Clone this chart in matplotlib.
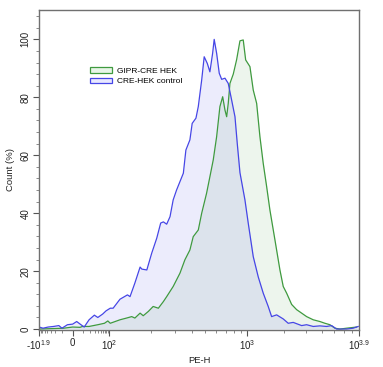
import numpy as np
import matplotlib
matplotlib.use("Agg")
import matplotlib.pyplot as plt
import matplotlib.patches as mpatches
from matplotlib.ticker import FixedLocator

plt.rcParams['font.family'] = ['Liberation Sans', 'DejaVu Sans']
plt.rcParams['mathtext.fontset'] = 'custom'
plt.rcParams['mathtext.rm'] = 'Liberation Sans'
plt.rcParams['mathtext.it'] = 'Liberation Sans'
plt.rcParams['mathtext.default'] = 'regular'

# histogram traces, PE-H value vs Count (%)
blue_x = [-79, -57, -37, -23, -14, -10, -4.4, 0, 3.4, 7.4, 11, 18, 29, 39, 59, 78,
          102, 107, 120, 136, 142, 154, 168, 173, 188, 204, 222, 237, 248, 262,
          277, 292, 309, 346, 361, 386, 401, 427, 444, 470, 490, 516, 539, 564,
          579, 603, 630, 656, 693, 732, 775, 819, 851, 890, 967, 1024, 1124,
          1233, 1352, 1483, 1579, 1733, 1958, 2148, 2356, 2753, 3019, 3412,
          3862, 4372, 4796, 5261, 6331, 7153, 7846]
blue_y = [0.7, 0.3, 0.7, 0.9, 1.2, 0.3, 1.5, 1.7, 2.6, 1.5, 0.7, 3.2, 4.8, 4.0, 5.2, 6.3,
          7.2, 7.2, 10.3, 11.8, 11.2, 15.9, 21.4, 20.7, 20.4, 26.2, 31.4, 36.6, 37.0, 36.2,
          38.8, 44.6, 48.0, 53.8, 61.8, 65.3, 71.0, 72.8, 76.8, 86.0, 94.0, 91.7, 88.8, 95.2,
          100.0, 95.2, 88.3, 86.2, 86.6, 84.8, 79.0, 73.3, 64.0, 54.0, 44.6, 36.6, 25.0,
          18.0, 12.4, 7.8, 4.3, 4.9, 3.5, 2.0, 2.3, 1.2, 1.5, 0.9,
          1.1, 0.9, 1.2, 0.0, 0.0, 0.3, 0.9]

green_x = [-79, -8, 0, 6.4, 9.2, 18, 39, 68, 90, 102, 120, 134, 146, 154, 168, 177,
           193, 209, 228, 248, 262, 277, 292, 327, 355, 386, 408, 444, 470, 510,
           539, 570, 603, 637, 667, 693, 713, 732, 753, 796, 842, 890, 940, 979,
           1057, 1124, 1197, 1272, 1352, 1440, 1530, 1679, 1842, 1958, 2085, 2288,
           2509, 2753, 3019, 3412, 3862, 4236, 4647, 5098, 5592, 6331, 7618]
green_y = [0.0, 0.3, 0.7, 0.6, 0.9, 0.9, 1.5, 2.0, 2.8, 2.0, 3.2, 3.8, 4.3, 3.8, 5.5, 4.6,
           6.1, 7.8, 7.2, 9.5, 11.2, 13.0, 14.7, 19.3, 23.9, 27.3, 31.9, 34.2, 40.0, 46.9,
           52.6, 58.4, 66.4, 76.8, 80.2, 75.6, 73.3, 77.9, 84.8, 88.0, 93.0, 99.5, 99.8, 92.9,
           90.6, 82.5, 77.9, 66.4, 57.2, 49.2, 41.1, 30.8, 20.4, 14.7, 12.4, 8.5,
           6.7, 5.5, 4.3, 3.2, 2.6, 2.0, 1.5, 0.3, 0.0, 0.3, 0.7]

tick_vals = [-10**1.9, 0, 100, 1000, 10**3.9]
tick_labels = [r'-10$^{1.9}$', '0', r'10$^{2}$', r'10$^{3}$', r'10$^{3.9}$']

# biexponential-like display: asinh space mapped piecewise onto the axis
anchor_u = np.arcsinh(np.array(tick_vals) / 10.0)
anchor_p = np.array([0.0, 0.105, 0.219, 0.650, 1.0])


def fwd(x):
    u = np.arcsinh(np.asarray(x, dtype=float) / 10.0)
    return np.interp(u, anchor_u, anchor_p)


def inv(p):
    u = np.interp(np.asarray(p, dtype=float), anchor_p, anchor_u)
    return 10.0 * np.sinh(u)


blue_line = '#4646e6'
green_line = '#3f9a3f'

fig = plt.figure(figsize=(3.83, 3.67), dpi=100)
ax = fig.add_axes([0.102, 0.101, 0.835, 0.873])
ax.set_xscale('function', functions=(fwd, inv))

ax.fill_between(green_x, green_y, 0, color=(0.25, 0.6, 0.25), alpha=0.09, lw=0)
ax.fill_between(blue_x, blue_y, 0, color=(0.3, 0.3, 0.9), alpha=0.1, lw=0)
ax.plot(green_x, green_y, color=green_line, lw=0.9)
ax.plot(blue_x, blue_y, color=blue_line, lw=0.9)

ax.set_xlim(tick_vals[0], tick_vals[-1])
ax.set_ylim(-0.3, 110.3)

ax.xaxis.set_major_locator(FixedLocator(tick_vals))
ax.set_xticklabels(tick_labels)
minor = [-v for v in range(10, 80, 10)] + list(range(10, 100, 10)) + \
    list(range(200, 1000, 100)) + list(range(2000, 8000, 1000))
ax.xaxis.set_minor_locator(FixedLocator(minor))

ax.set_yticks(range(0, 101, 20))
ax.yaxis.set_minor_locator(FixedLocator(range(0, 110, 4)))
for lab in ax.get_yticklabels():
    lab.set_rotation(90)
    lab.set_va('center')

ax.tick_params(which='major', length=4, width=0.8, color='#555555', labelsize=7,
               labelcolor='#222222', pad=2)
ax.tick_params(which='minor', length=2, width=0.6, color='#777777')
for s in ax.spines.values():
    s.set_color('#707070')
    s.set_linewidth(1.0)

ax.set_xlabel('PE-H', fontsize=6.8, color='#222222', labelpad=3)
ax.set_ylabel('Count (%)', fontsize=6.8, color='#222222', labelpad=4)

handles = [mpatches.Patch(facecolor=(0.91, 0.96, 0.91), edgecolor=green_line, lw=0.9,
                          label='GIPR-CRE HEK'),
           mpatches.Patch(facecolor=(0.91, 0.91, 1.0), edgecolor=blue_line, lw=0.9,
                          label='CRE-HEK control')]
ax.legend(handles=handles, loc='upper left', bbox_to_anchor=(0.15, 0.83),
          frameon=False, fontsize=6, handlelength=2.6, handleheight=0.6,
          handletextpad=0.6, labelspacing=0.35, borderaxespad=0)

fig.savefig('out.png', dpi=100)
